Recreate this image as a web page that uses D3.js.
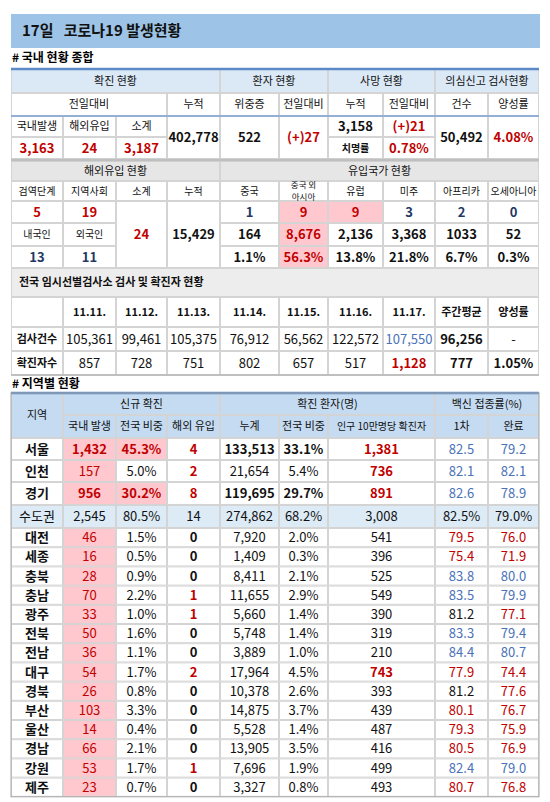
<!DOCTYPE html>
<html><head><meta charset="utf-8">
<script src="https://cdn.jsdelivr.net/npm/d3@7"></script>
<style>body{margin:0;background:#fff}text{font-family:"Noto Sans CJK KR","Noto Sans",sans-serif}</style>
</head><body><svg id="c" width="550" height="802"></svg>
<script>
// ---- data ----
const titleText = "17일   코로나19 발생현황";
const domNew = ["3,163","24","3,187"], domCum = "402,778", critical = "522", critDelta = "(+)27";
const deathCum = "3,158", deathDelta = "(+)21", fatality = "0.78%", tests = "50,492", posRate = "4.08%";
const importQuar = "5", importLocal = "19", importSub = "24", importCum = "15,429", importKor = "13", importFor = "11";
const countries = ["중국","중국 외|아시아","유럽","미주","아프리카","오세아니아"];
const countryToday = ["1","9","9","3","2","0"];
const countryCum = ["164","8,676","2,136","3,368","1033","52"];
const countryShare = ["1.1%","56.3%","13.8%","21.8%","6.7%","0.3%"];
const testDates = ["11.11.","11.12.","11.13.","11.14.","11.15.","11.16.","11.17."];
const testCounts = ["105,361","99,461","105,375","76,912","56,562","122,572","107,550"];
const testConfirmed = ["857","728","751","802","657","517","1,128"];
const testAvg = "96,256", confAvg = "777", testPos = "1.05%";
const regions = ["서울","인천","경기","수도권","대전","세종","충북","충남","광주","전북","전남","대구","경북","부산","울산","경남","강원","제주"];
const regDom = ["1,432","157","956","2,545","46","16","28","70","33","50","36","54","26","103","14","66","53","23"];
const regShare = ["45.3%","5.0%","30.2%","80.5%","1.5%","0.5%","0.9%","2.2%","1.0%","1.6%","1.1%","1.7%","0.8%","3.3%","0.4%","2.1%","1.7%","0.7%"];
const regImp = [4,2,8,14,0,0,0,1,1,0,0,2,0,0,0,0,1,0];
const regCum = ["133,513","21,654","119,695","274,862","7,920","1,409","8,411","11,655","5,660","5,748","3,889","17,964","10,378","14,875","5,528","13,905","7,696","3,327"];
const regCumShare = ["33.1%","5.4%","29.7%","68.2%","2.0%","0.3%","2.1%","2.9%","1.4%","1.4%","1.0%","4.5%","2.6%","3.7%","1.4%","3.5%","1.9%","0.8%"];
const regPer100k = ["1,381","736","891","3,008","541","396","525","549","390","319","210","743","393","439","487","416","499","493"];
const vac1 = ["82.5","82.1","82.6","82.5%","79.5","75.4","83.8","83.5","81.2","83.3","84.4","77.9","81.2","80.1","79.3","80.5","82.4","80.7"];
const vac2 = ["79.2","82.1","78.9","79.0%","76.0","71.9","80.0","79.9","77.1","79.4","80.7","74.4","77.6","76.7","75.9","76.9","79.0","76.8"];

// ---- layout ----
const svg = d3.select("#c");
const edges = [11,63,116,167,220,279,328,383,435,488,539];
const col = d3.scaleLinear().domain(d3.range(11)).range(edges);
const RED="#c00000", NAVY="#1f3864", BLUE="#4a72b8", PINK="#ffc7ce", GRID="#d4d4d4";
function cell(c0,c1,y0,y1,t,o={}){
  const x0=col(c0), x1=col(c1);
  if(o.bg) svg.append("rect").attr("x",x0).attr("y",y0).attr("width",x1-x0).attr("height",y1-y0).attr("fill",o.bg);
  svg.append("rect").attr("x",x0+.5).attr("y",y0+.5).attr("width",x1-x0-1).attr("height",y1-y0-1).attr("fill","none").attr("stroke",GRID).attr("stroke-width",1);
  if(t==null||t==="") return;
  const lines=String(t).split("|"), fs=o.fs||13, lh=fs*(o.lh||1.1);
  const cx=o.left?x0+8:(x0+x1)/2, cy=(y0+y1)/2+(o.dyc||0)-(lines.length-1)*lh/2;
  lines.forEach((l,i)=>svg.append("text").attr("x",cx).attr("y",cy+i*lh).attr("dy","0.36em")
    .attr("text-anchor",o.left?"start":"middle").attr("font-size",fs).attr("font-weight",o.bold?"bold":"normal")
    .attr("fill",o.color||"#111").text(l));
}
function hline(y,c,w){svg.append("line").attr("x1",edges[0]).attr("x2",edges[10]).attr("y1",y).attr("y2",y).attr("stroke",c).attr("stroke-width",w);}

// title
svg.append("rect").attr("x",11).attr("y",14).attr("width",529).attr("height",34).attr("fill","#9dc3e6");
svg.append("text").attr("x",22).attr("y",31).attr("dy","0.36em").attr("font-size",15).attr("font-weight","bold").attr("fill","#111").style("white-space","pre").text(titleText);
svg.append("text").attr("x",12).attr("y",58).attr("dy","0.36em").attr("font-size",12).attr("font-weight","bold").text("# 국내 현황 종합");

// table 1
const HB="#dbe9f7", fh=11;
cell(0,4,69,93,"확진 현황",{bg:HB,fs:fh}); cell(4,6,69,93,"환자 현황",{bg:HB,fs:fh});
cell(6,8,69,93,"사망 현황",{bg:HB,fs:fh}); cell(8,10,69,93,"의심신고 검사현황",{bg:HB,fs:fh});
["전일대비",null,null,"누적","위중증","전일대비","누적","전일대비","건수","양성률"].forEach((t,i)=>{ if(i===0) cell(0,3,93,116,t,{fs:fh}); else if(t) cell(i,i+1,93,116,t,{fs:fh}); });
["국내발생","해외유입","소계"].forEach((t,i)=>cell(i,i+1,116,137,t,{fs:fh}));
domNew.forEach((t,i)=>cell(i,i+1,137,159,t,{color:RED,bold:true}));
cell(3,4,116,159,domCum,{bold:true}); cell(4,5,116,159,critical,{bold:true});
cell(5,6,116,159,critDelta,{bold:true,color:RED});
cell(6,7,116,137,deathCum,{bold:true}); cell(7,8,116,137,deathDelta,{bold:true,color:RED});
cell(6,7,137,159,"치명률",{fs:10,bold:true}); cell(7,8,137,159,fatality,{bold:true,color:RED});
cell(8,9,116,159,tests,{bold:true}); cell(9,10,116,159,posRate,{bold:true,color:RED});
hline(69,"#5b8ac6",2.5); hline(116,"#7fa3d4",1.5);

// table 2
const GB="#e7e6e6";
cell(0,4,161,181,"해외유입 현황",{bg:GB,fs:fh}); cell(4,10,161,181,"유입국가 현황",{bg:GB,fs:fh});
["검역단계","지역사회","소계","누적"].forEach((t,i)=>cell(i,i+1,181,201,t,{fs:10}));
countries.forEach((t,i)=>cell(i+4,i+5,181,201,t,t.includes("|")?{fs:8.5,lh:1.4}:{fs:10}));
cell(0,1,201,223,importQuar,{bold:true,color:RED}); cell(1,2,201,223,importLocal,{bold:true,color:RED});
cell(0,1,223,246,"내국인",{fs:10}); cell(1,2,223,246,"외국인",{fs:10});
cell(0,1,246,268,importKor,{bold:true,color:NAVY}); cell(1,2,246,268,importFor,{bold:true,color:NAVY});
cell(2,3,201,268,importSub,{bold:true,color:RED}); cell(3,4,201,268,importCum,{bold:true});
const maxToday=d3.max(countryToday,d=>+d);
countryToday.forEach((t,i)=>{const hi=+t===maxToday; cell(i+4,i+5,201,223,t,{bold:true,color:hi?RED:NAVY,bg:hi?PINK:null});});
const maxShare=d3.max(countryShare,d=>parseFloat(d));
countryCum.forEach((t,i)=>{const hi=parseFloat(countryShare[i])===maxShare; cell(i+4,i+5,223,246,t,{bold:true,color:hi?RED:"#111",bg:hi?PINK:null});});
countryShare.forEach((t,i)=>{const hi=parseFloat(t)===maxShare; cell(i+4,i+5,246,268,t,{bold:true,color:hi?RED:"#111",bg:hi?PINK:null});});
hline(160,"#bfbfbf",2.5);

// table 3
cell(0,10,268,297,"전국 임시선별검사소 검사 및 확진자 현황",{bg:"#ededed",fs:11,bold:true,left:true});
cell(0,1,297,327,"");
testDates.forEach((t,i)=>cell(i+1,i+2,297,327,t,{fs:11,bold:true}));
cell(8,9,297,327,"주간평균",{fs:11,bold:true}); cell(9,10,297,327,"양성률",{fs:11,bold:true});
cell(0,1,327,351,"검사건수",{fs:11,bold:true}); cell(0,1,351,375,"확진자수",{fs:11,bold:true});
testCounts.forEach((t,i)=>cell(i+1,i+2,327,351,t,{color:i===6?BLUE:"#111"}));
testConfirmed.forEach((t,i)=>cell(i+1,i+2,351,375,t,{color:i===6?RED:"#111",bold:i===6}));
cell(8,9,327,351,testAvg,{bold:true}); cell(9,10,327,351,"-",{});
cell(8,9,351,375,confAvg,{bold:true}); cell(9,10,351,375,testPos,{bold:true});
hline(375,"#bfbfbf",2);

// region table
svg.append("text").attr("x",12).attr("y",384).attr("dy","0.36em").attr("font-size",12).attr("font-weight","bold").text("# 지역별 현황");
const RB="#c5dbf1";
cell(0,1,393,438,"지역",{bg:RB,fs:11}); cell(1,4,393,415,"신규 확진",{bg:RB,fs:11});
cell(4,8,393,415,"확진 환자(명)",{bg:RB,fs:11}); cell(8,10,393,415,"백신 접종률(%)",{bg:RB,fs:11});
["국내 발생","전국 비중","해외 유입","누계","전국 비중"].forEach((t,i)=>cell(i+1,i+2,415,438,t,{bg:RB,fs:11}));
cell(6,8,415,438,"인구 10만명당 확진자",{bg:RB,fs:10}); cell(8,9,415,438,"1차",{bg:RB,fs:11}); cell(9,10,415,438,"완료",{bg:RB,fs:11});
const rowTops=[438,460,482,505,528]; for(let i=1;i<=14;i++) rowTops.push(528+i*19.2);
regions.forEach((r,i)=>{
  const y0=rowTops[i], y1=rowTops[i+1], cap=r==="수도권", bg=cap?"#ddebf7":null;
  const share=parseFloat(regShare[i]), big=!cap&&share>=10;
  cell(0,1,y0,y1,r,{bold:!cap,bg});
  cell(1,2,y0,y1,regDom[i],{bg:cap?bg:PINK,color:cap?"#111":RED,bold:big});
  cell(2,3,y0,y1,regShare[i],{bg:big?PINK:bg,color:big?RED:"#111",bold:big});
  cell(3,4,y0,y1,regImp[i],{bg,bold:!cap,color:cap?"#111":(regImp[i]>0?RED:"#111")});
  cell(4,5,y0,y1,regCum[i],{bg,bold:big});
  cell(5,6,y0,y1,regCumShare[i],{bg,bold:big});
  const p=+regPer100k[i].replace(",",""), hiP=!cap&&p>=700;
  cell(6,8,y0,y1,regPer100k[i],{bg,bold:hiP,color:hiP?RED:"#111"});
  const v1=parseFloat(vac1[i]), v2=parseFloat(vac2[i]);
  cell(8,9,y0,y1,vac1[i],{bg,color:cap?"#111":(v1>=82?BLUE:v1>=81?"#111":RED)});
  cell(9,10,y0,y1,vac2[i],{bg,color:cap?"#111":(v2>=78?BLUE:RED)});
});
hline(393,"#5b8ac6",2.5);
svg.append("rect").attr("x",11).attr("y",393).attr("width",528).attr("height",rowTops[18]-393).attr("fill","none").attr("stroke","#a6a6a6");
</script></body></html>
